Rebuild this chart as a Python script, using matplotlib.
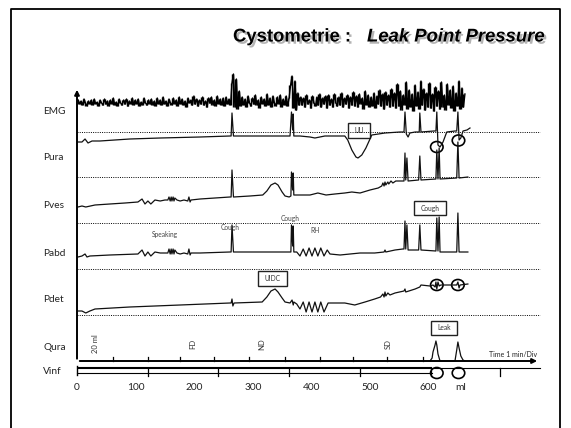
import numpy as np
import matplotlib
matplotlib.use('Agg')
import matplotlib.pyplot as plt
from matplotlib.patches import Ellipse, Rectangle
import matplotlib.patheffects as pe

W, H = 571, 428
PX_PER_ML = 0.586
X0_PX = 77.0

# ---------------- data ----------------
channels = ['EMG', 'Pura', 'Pves', 'Pabd', 'Pdet', 'Qura', 'Vinf']
label_rows = [111, 158, 205, 253, 300, 348, 371]
zero_rows = {'EMG': 103, 'Pura': 142, 'Pves': 208, 'Pabd': 257, 'Pdet': 312, 'Qura': 361}
ref_lines = [132, 177, 223, 269, 315]

vol_ticks = [0, 100, 200, 300, 400, 500, 600]
vol_unit_pos = 654
time_ticks_ml = [61, 121, 176, 234, 293.5, 355, 414.7, 471, 529, 590]
vinf_ticks_ml = [121, 241, 362, 483, 604, 722]

markers = ['20 ml', 'FD', 'ND', 'SD']
markers_ml = [32, 198, 316, 531]

emg_start, emg_step = 2, 2.5
emg_val = [3, -1, 2, -2, 4, 0, -3, 2, -1, 3,
           -2, 4, -1, 1, -3, 3, 0, -2, 4, -1,
           2, -3, 3, -1, 5, -2, 1, -3, 4, 0,
           -2, 3, -1, 4, -3, 2, -1, 5, -2, 3,
           -1, 4, -3, 1, -2, 5, 0, -2, 3, -1,
           4, -2, 2, -3, 5, -1, 3, -2, 6, -1,
           2, -3, 4, 0, -2, 5, -1, 3, -3, 6,
           -1, 4, -2, 2, -4, 5, 0, 3, -2, 7,
           -1, 4, -3, 3, -1, 6, -2, 2, -4, 5,
           0, 6, -2, 3, -3, 7, -1, 4, -2, 5,
           -3, 6, -1, 4, -2,
           20, 29, -4, 24, -6, 12, -3,
           6, -2, 4, -4, 7, 0, -3, 5, -1, 8,
           -2, 3, -5, 6, -1, 4, -3, 9, -2, 5,
           -4, 7, 0, -3, 6, -1, 8, -4, 4, -2,
           7, -3, 5,
           18, 27, -5, 22, -7, 10, -2,
           6, -2, 5, -4, 8, -1, 3, -5, 7, 0,
           -3, 6, -2, 9, -4, 5, -1, 7, -5, 8,
           -2, 4, -4, 9, 0, -3, 6, -2, 10, -4,
           5, -1, 8, -5, 6, -2, 11, -3, 7, -4,
           9, -1, 5, -6, 12, -2, 8, -4, 6, -3,
           10, -5, 7, -1, 13, -3, 9, -6, 11, -2,
           8, -4, 14, -3,
           10, -5, 19, -3, 12, -7, 8, -2, 21, -6,
           13, -4, 9, -8, 18, -3, 11, -6, 22, -2,
           14, -7, 10, -4, 20, -5, 9, -8, 16, -3,
           12, -6, 21, -4, 8, -7, 19, -2, 13, -5,
           17, -8, 10, -3, 22, -6, 15, -4, 9]

pura_ml = [1.7, 8.5, 13.7, 18.8, 25.6, 39, 90, 142, 210, 261, 263, 264.5, 267, 312, 363.5,
           366, 368, 369, 370, 380.5, 397.6, 406, 423, 449, 457, 462, 469, 476, 479.5, 486,
           493, 500, 503, 525.6, 551, 558, 559.7, 562, 565, 568, 577, 584, 585, 587, 609,
           612.5, 614, 616, 619.5, 624.6, 631, 645, 648, 650, 652, 655, 658.7, 665.5, 670.6]
pura_val = [0, 0, 3, -1, 1, 1, 3, 4, 5, 6, 6, 29, 6, 6, 6,
            30, 12, 28, 6, 6, 5, 4, 6, 6, 6, 2, -8, -15, -16, -13,
            -6, 3, 7, 9, 10, 10, 30, 8, 5, 9, 10, 10, 29, 10, 11,
            11, 30, -3, -5, 0, 10, 11, 11, 30, 2, 4, 11, 12, 14]

pves_ml = [1.7, 8.5, 15, 30.7, 56, 82, 104, 111, 116, 121, 126, 133, 142, 150, 155,
           157, 159, 160.7, 162, 164, 165.5, 167, 170.6, 176, 182.6, 189, 191, 193, 194.5, 210,
           261, 263, 264.5, 267, 295, 317, 324, 331, 338, 343, 350, 355, 362, 365, 366,
           368, 369, 370, 380.5, 397.6, 411, 425, 440, 457, 469, 483, 500, 514, 520, 522,
           524, 525.6, 527, 530.5, 532, 535.8, 539, 544, 551, 558, 559.7, 561, 563, 565, 583,
           585, 587, 612.5, 614, 616, 618, 619.5, 648, 650, 652, 667]
pves_val = [1, 2, 1, 3, 4, 5, 6, 9, 4, 7, 4, 8, 7, 8, 8,
            11, 7, 11, 7, 11, 7, 10, 8, 7, 8, 7, 11, 6, 8, 9,
            11, 11, 38, 11, 12, 13, 17, 23, 25, 23, 16, 12, 11, 12, 36,
            18, 35, 13, 13, 13, 15, 13, 14, 15, 16, 15, 18, 20, 22, 25,
            22, 26, 23, 26, 24, 27, 25, 27, 27, 27, 55, 28, 50, 27, 28,
            52, 28, 29, 58, 29, 60, 29, 30, 66, 30, 31]

pabd_ml = [1.7, 8.5, 13.7, 17, 22, 56, 104, 111, 116, 121, 126, 133, 142, 150, 155,
           157, 159, 160.7, 162, 164, 165.5, 167, 170.6, 176, 182.6, 189, 191, 193, 194.5, 210,
           261, 263, 264.5, 267, 312, 363.5, 365, 366, 368, 369, 370, 375, 380.5, 386, 391,
           396, 401, 406, 411, 416, 421.5, 427, 431.7, 449, 466, 483, 508, 524, 525.6, 527,
           542.7, 556, 558, 559.7, 561, 563, 565, 583, 585, 587, 612.5, 614, 616, 618, 619.5,
           648, 650, 652, 667]
pabd_val = [0, 1, 3, 0, 1, 2, 3, 7, 1, 5, 1, 5, 4, 4, 4,
            8, 3, 8, 3, 8, 3, 7, 4, 3, 4, 3, 8, 2, 4, 4,
            5, 5, 32, 5, 5, 5, 5, 32, 11, 31, 5, 5, 1, 8, 1,
            9, 1, 9, 1, 9, 1, 7, 3, 2, 3, 4, 4, 5, 7, 5,
            7, 8, 8, 36, 8, 32, 7, 7, 32, 7, 6, 39, 6, 40, 5,
            5, 44, 5, 5]

pdet_ml = [1.7, 8.5, 15, 22, 30.7, 90, 176, 261, 263, 264.5, 266, 268, 316, 324, 331,
           338, 343, 350, 355, 363.5, 367, 369, 370, 375, 380.5, 386, 391, 396, 401, 406,
           411, 416, 421.5, 428.5, 435, 457, 474, 491.5, 508, 518, 522, 524, 525.6, 527, 530.5,
           534, 542.7, 558, 559.7, 561, 577, 585, 587, 602.4, 607.5, 611, 612.5, 614, 616, 618,
           621, 645, 648, 650, 652, 653.6, 667]
pdet_val = [1, 1, -1, 1, 3, 5, 7, 9, 9, 13, 6, 9, 10, 15, 21,
            23, 20, 14, 10, 9, 12, 7, 10, 8, 3, 10, 0, 10, 0, 10,
            0, 10, 0, 9, 9, 9, 7, 10, 13, 15, 18, 15, 20, 16, 19,
            17, 19, 21, 23, 20, 23, 25, 27, 26, 27, 25, 30, 23, 30, 26,
            27, 27, 27, 30, 24, 27, 28]

qura_ml = [602.4, 606, 607.5, 609, 611, 612.5, 614, 616, 619.5, 645, 648, 650, 652, 655, 658.7, 662]
qura_val = [0, 3, 9, 12, 16, 20, 16, 7, 0, 0, 11, 19, 13, 5, 1, 0]

# ---------------- figure ----------------
fig = plt.figure(figsize=(W / 100, H / 100), dpi=100)
lay = fig.add_axes([0, 0, 1, 1])
lay.set_xlim(0, W); lay.set_ylim(H, 0); lay.axis('off')
ax = fig.add_axes([0, 0, 1, 1])
ax.set_xlim(-X0_PX / PX_PER_ML, (W - X0_PX) / PX_PER_ML)
ax.set_ylim(H, 0); ax.axis('off'); ax.patch.set_alpha(0)

LBL = 'Lato'
INK = '#111111'

# frame
lay.plot([11, 11, 560, 560], [H + 5, 8.5, 8.5, H + 5], color='black', lw=1.3, clip_on=False)

# title
sh = [pe.withSimplePatchShadow(offset=(1.6, -1.6), shadow_rgbFace='#777777', alpha=0.55)]
lay.text(233, 37, 'Cystometrie :', fontsize=13.3, fontweight='bold', family='Liberation Sans',
         va='center', ha='left', path_effects=sh)
lay.text(367, 37, 'Leak Point Pressure', fontsize=13.3, fontweight='bold', style='italic',
         family='Liberation Sans', va='center', ha='left', path_effects=sh)

# channel labels
for name, row in zip(channels, label_rows):
    lay.text(43, row, name, fontsize=7.3, family=LBL, va='center', ha='left', color='#222222')

# reference dotted lines
for r in ref_lines:
    ax.plot([0, 790], [r, r], color='black', lw=0.7, ls=(0, (1, 1.3)))

# axes arrows
ax.annotate('', xy=(0, 87), xytext=(0, 361.5),
            arrowprops=dict(arrowstyle='-|>', lw=1.4, color='black', mutation_scale=7))
ax.annotate('', xy=(790, 361), xytext=(0, 361),
            arrowprops=dict(arrowstyle='-|>', lw=1.4, color='black', mutation_scale=7))
for t in time_ticks_ml:
    ax.plot([t, t], [361, 356.5], color='black', lw=0.9)
lay.text(537, 358, 'Time 1 min/Div', fontsize=5.0, family=LBL, ha='right', va='bottom', color='#222222')

# Vinf bar
ax.plot([0, 606], [368, 368], color='black', lw=1.5, solid_capstyle='butt')
ax.plot([606, 790], [368, 368], color='black', lw=0.8)
ax.plot([0, 606], [372.5, 372.5], color='black', lw=0.8)
ax.plot([0, 0], [365.5, 375], color='black', lw=1.0)
for t in vinf_ticks_ml:
    ax.plot([t, t], [368, 376], color='black', lw=0.9)

# volume labels
for v in vol_ticks:
    ax.text(v, 387, str(v), fontsize=7.3, family=LBL, ha='center', va='center', color='#222222')
ax.text(vol_unit_pos, 387, 'ml', fontsize=7.3, family=LBL, ha='center', va='center', color='#222222')

# marker texts in Qura row
for m, v in zip(markers, markers_ml):
    ax.text(v, 344, m, fontsize=5.5, family=LBL, rotation=90, ha='center', va='center', color='#333333')

# EMG band: zig-zag plus vertical strokes between neighbouring samples
emg_ml = emg_start + emg_step * np.arange(len(emg_val))
emg_y = zero_rows['EMG'] - np.array(emg_val, dtype=float)
ax.plot(emg_ml, emg_y, color='black', lw=1.0)
ax.vlines(emg_ml[:-1], np.minimum(emg_y[:-1], emg_y[1:]), np.maximum(emg_y[:-1], emg_y[1:]),
          color='black', lw=1.0)

for name, xs, vs in [('Pura', pura_ml, pura_val), ('Pves', pves_ml, pves_val),
                     ('Pabd', pabd_ml, pabd_val), ('Pdet', pdet_ml, pdet_val),
                     ('Qura', qura_ml, qura_val)]:
    ax.plot(xs, zero_rows[name] - np.array(vs), color=INK, lw=0.9)

# circles marking leak events
cw = 12.5 / PX_PER_ML
for (cx, cy) in [(614, 147), (651, 140.5), (614, 285), (650, 285), (614, 373), (651, 373)]:
    ax.add_patch(Ellipse((cx, cy), cw, 11, fill=False, lw=1.2, ec='black'))

# annotation boxes
def box(x0, y0, x1, y1, txt):
    lay.add_patch(Rectangle((x0, y0), x1 - x0, y1 - y0, fill=False, lw=1.0, ec='#222222'))
    lay.text((x0 + x1) / 2, (y0 + y1) / 2, txt, fontsize=4.8, family=LBL, ha='center', va='center',
             color='#333333')

box(348, 123, 370, 138, 'UU')
box(258, 271, 287, 286, 'UIDC')
box(414, 201, 446, 215, 'Cough')
box(431, 321, 457, 335, 'Leak')

for x, y, t in [(165, 234, 'Speaking'), (230, 227, 'Cough'), (290, 218, 'Cough'), (315, 230, 'RH')]:
    lay.text(x, y, t, fontsize=4.8, family=LBL, ha='center', va='center', color='#444444')

fig.savefig('out.png', dpi=100)
